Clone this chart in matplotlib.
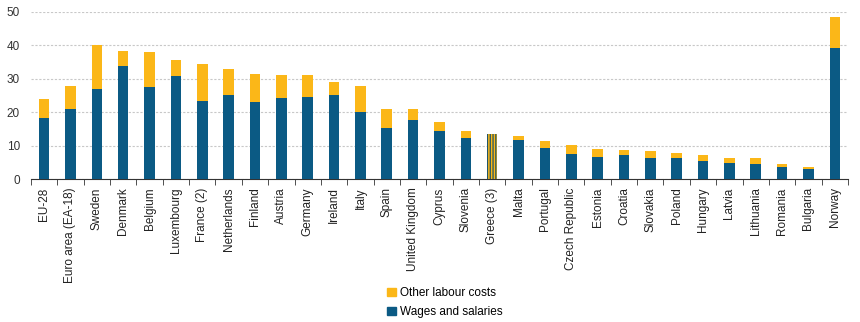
import numpy as np
import matplotlib.pyplot as plt
from matplotlib.patches import Patch

countries = ["EU-28", "Euro area (EA-18)", "Sweden", "Denmark", "Belgium",
             "Luxembourg", "France (2)", "Netherlands", "Finland", "Austria",
             "Germany", "Ireland", "Italy", "Spain", "United Kingdom",
             "Cyprus", "Slovenia", "Greece (3)", "Malta", "Portugal",
             "Czech Republic", "Estonia", "Croatia", "Slovakia", "Poland",
             "Hungary", "Latvia", "Lithuania", "Romania", "Bulgaria", "Norway"]
totals = [23.8, 27.9, 40.2, 38.4, 37.9, 35.6, 34.3, 33.0, 31.3, 31.2,
          31.2, 29.0, 27.9, 20.9, 20.9, 17.1, 14.3, 13.6, 12.8, 11.5,
          10.3, 9.0, 8.7, 8.5, 7.7, 7.2, 6.2, 6.2, 4.4, 3.7, 48.6]
wages = [18.2, 20.9, 26.8, 33.7, 27.5, 30.7, 23.3, 25.0, 23.0, 24.2,
         24.4, 25.0, 20.1, 15.4, 17.6, 14.3, 12.3, None, 11.8, 9.3,
         7.5, 6.5, 7.2, 6.2, 6.2, 5.4, 4.9, 4.4, 3.6, 2.9, 39.3]
# Greece has only a total, no breakdown
no_split = "Greece (3)"

blue = "#0b5a84"
yellow = "#fbb718"

plt.rcParams["font.family"] = ["Liberation Sans", "DejaVu Sans"]
plt.rcParams["hatch.linewidth"] = 0.9

fig = plt.figure(figsize=(8.6, 3.22), dpi=100)
ax = fig.add_axes([0.036, 0.444, 0.95, 0.519])

x = np.arange(len(countries))
w = 0.4
for i, name in enumerate(countries):
    if name == no_split:
        ax.bar(i, totals[i], w, color=yellow, edgecolor="#1f5566",
               hatch="||||||", linewidth=0, zorder=3)
        continue
    ax.bar(i, wages[i], w, color=blue, zorder=3)
    ax.bar(i, totals[i] - wages[i], w, bottom=wages[i], color=yellow, zorder=3)

ax.set_xlim(-0.5, len(countries) - 0.5)
ax.set_ylim(0, 50)
ax.set_yticks([0, 10, 20, 30, 40, 50])
ax.yaxis.grid(True, linestyle=(0, (2, 1.5)), color="#c8c8c8", linewidth=0.8)
ax.tick_params(axis="y", length=0, labelsize=8.5, colors="#333333", pad=8)

ax.set_xticks(x)
ax.set_xticklabels(countries, rotation=90, fontsize=8.5, color="#222222")
ax.set_xticks(np.arange(-0.5, len(countries)), minor=True)
ax.tick_params(axis="x", which="major", length=0, pad=6)
ax.tick_params(axis="x", which="minor", length=4, direction="out", color="#333333")

for side in ["top", "right", "left"]:
    ax.spines[side].set_visible(False)
ax.spines["bottom"].set_color("#333333")

handles = [Patch(color=yellow, label="Other labour costs"),
           Patch(color=blue, label="Wages and salaries")]
fig.legend(handles=handles, loc="center left", bbox_to_anchor=(0.438, 0.06),
           frameon=False, fontsize=8.5, handlelength=0.7, handleheight=0.7,
           handletextpad=0.4, labelspacing=0.55)

fig.savefig("out.png", dpi=100)
